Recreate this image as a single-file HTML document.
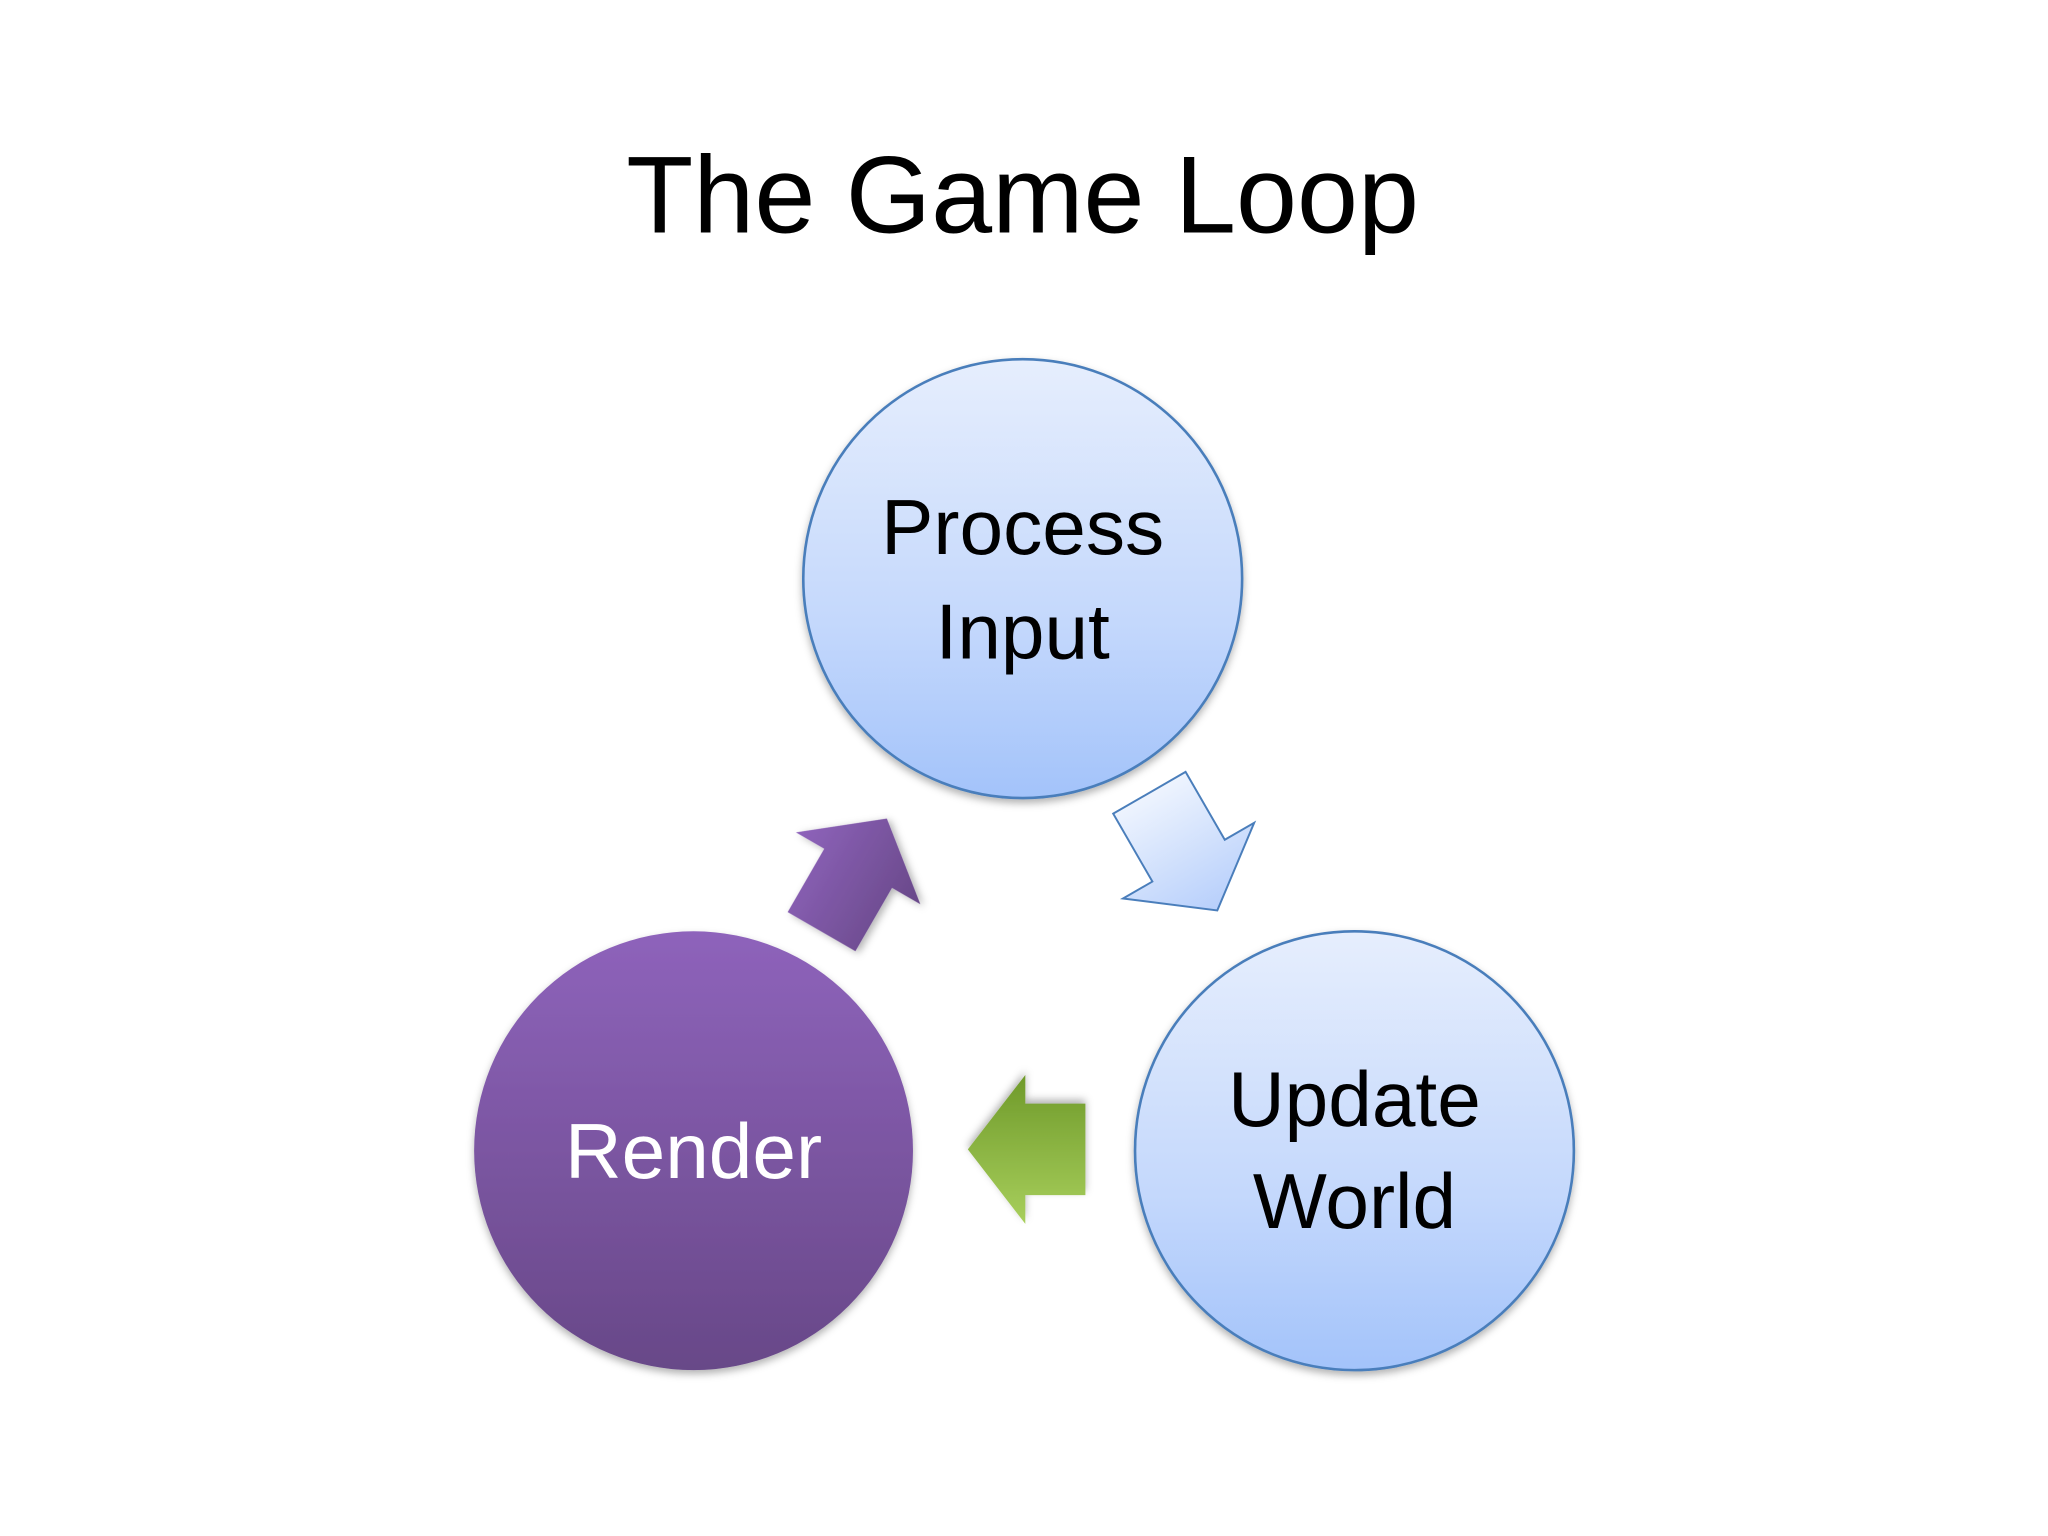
<!DOCTYPE html>
<html><head><meta charset="utf-8"><style>
html,body{margin:0;padding:0;background:#fff;}
svg{display:block;}
text{font-family:"Liberation Sans",sans-serif;}
</style></head><body>
<svg width="2048" height="1536" viewBox="0 0 1568 1176" xmlns="http://www.w3.org/2000/svg">
<defs>
<linearGradient id="bl" x1="0" y1="0" x2="0" y2="1">
<stop offset="0" stop-color="#e6eefd"/><stop offset="0.6" stop-color="#c4d8fc"/><stop offset="1" stop-color="#a3c3fa"/></linearGradient>
<linearGradient id="pu" x1="0" y1="0" x2="0" y2="1">
<stop offset="0" stop-color="#8e63bb"/><stop offset="1" stop-color="#684888"/></linearGradient>
<linearGradient id="gr" x1="0" y1="0" x2="0" y2="1">
<stop offset="0" stop-color="#a8cf5c"/><stop offset="1" stop-color="#6f9a2a"/></linearGradient>
<linearGradient id="ba" x1="0" y1="0" x2="1" y2="0">
<stop offset="0" stop-color="#eef4fe"/><stop offset="1" stop-color="#b7cffb"/></linearGradient>
<filter id="sh" x="-20%" y="-20%" width="140%" height="140%"><feDropShadow dx="0" dy="3" stdDeviation="3" flood-opacity="0.3"/></filter>
</defs>
<text x="783" y="178" font-size="84" text-anchor="middle" fill="#000">The Game Loop</text>

<circle cx="783" cy="443" r="168" fill="url(#bl)" stroke="#4a7ebb" stroke-width="2" filter="url(#sh)"/>
<circle cx="1037" cy="881" r="168" fill="url(#bl)" stroke="#4a7ebb" stroke-width="2" filter="url(#sh)"/>
<circle cx="531" cy="881" r="168" fill="url(#pu)" filter="url(#sh)"/>

<text x="783" y="424" font-size="60" text-anchor="middle" fill="#000">Process</text>
<text x="783" y="504" font-size="60" text-anchor="middle" fill="#000">Input</text>
<text x="1037" y="862" font-size="60" text-anchor="middle" fill="#000">Update</text>
<text x="1037" y="940" font-size="60" text-anchor="middle" fill="#000">World</text>
<text x="531" y="902" font-size="60" text-anchor="middle" fill="#fff">Render</text>

<!-- green arrow -->
<g transform="translate(786,880) rotate(180)" filter="url(#sh)">
<polygon points="-45,-35 1,-35 1,-57 45,0 1,57 1,35 -45,35" fill="url(#gr)"/>
</g>
<!-- blue arrow -->
<g transform="translate(906,652) rotate(60)">
<polygon points="-52,-32 8,-32 8,-58 52,0 8,58 8,32 -52,32" fill="url(#ba)" stroke="#4a7ebb" stroke-width="1.5"/>
</g>
<!-- purple arrow -->
<g transform="translate(654,670) rotate(-60)" filter="url(#sh)">
<polygon points="-50,-30 6,-30 6,-55 50,0 6,55 6,30 -50,30" fill="url(#pu)"/>
</g>
</svg>
</body></html>
